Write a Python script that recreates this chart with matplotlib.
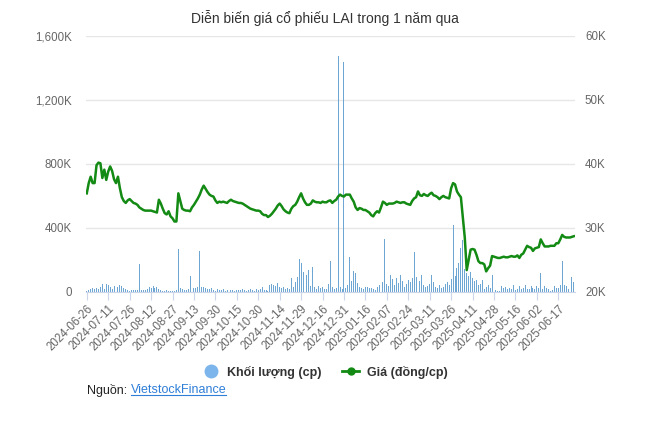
import numpy as np
import matplotlib
matplotlib.use("Agg")
import matplotlib.pyplot as plt
from matplotlib.lines import Line2D
from matplotlib.ticker import FuncFormatter, FixedLocator

plt.rcParams["font.family"] = ["Liberation Sans", "DejaVu Sans"]

TITLE = "Diễn biến giá cổ phiếu LAI trong 1 năm qua"

# tick labels, one every 11 sessions
tick_labels = [
    "2024-06-26", "2024-07-11", "2024-07-26", "2024-08-12", "2024-08-27",
    "2024-09-13", "2024-09-30", "2024-10-15", "2024-10-30", "2024-11-14",
    "2024-11-29", "2024-12-16", "2024-12-31", "2025-01-16", "2025-02-07",
    "2025-02-24", "2025-03-11", "2025-03-26", "2025-04-11", "2025-04-28",
    "2025-05-16", "2025-06-02", "2025-06-17",
]
tick_step = 11

# close price, thousand dong
price_k = [
    35.4, 37.0, 38.0, 37.0, 37.0, 39.8, 40.2, 40.1, 37.8, 39.1,
    37.5, 38.8, 39.6, 38.9, 37.6, 37.0, 38.0, 36.2, 34.8, 34.2,
    33.9, 34.3, 34.5, 34.2, 33.9, 33.8, 33.6, 33.2, 33.0, 32.8,
    32.7, 32.7, 32.7, 32.7, 32.6, 32.5, 32.4, 34.4, 33.8, 33.0,
    32.3, 32.1, 32.6, 31.8, 31.5, 31.0, 31.0, 35.4, 34.2, 33.0,
    32.8, 32.7, 32.7, 32.6, 33.2, 33.6, 34.1, 34.6, 35.2, 36.0,
    36.6, 36.1, 35.6, 35.2, 35.0, 34.9, 34.3, 33.9, 34.1, 34.0,
    34.1, 34.0, 33.9, 34.2, 34.4, 34.2, 34.1, 34.0, 33.9, 33.9,
    33.8, 33.6, 33.4, 33.2, 33.0, 32.9, 32.8, 32.7, 32.7, 32.6,
    32.2, 32.0, 32.0, 31.7, 31.9, 32.2, 32.6, 33.0, 33.5, 33.8,
    33.4, 32.9, 32.6, 32.4, 32.3, 33.0, 33.4, 33.6, 34.1, 34.8,
    35.4, 34.6, 34.0, 33.6, 33.6, 33.8, 34.3, 34.1, 34.0, 34.0,
    33.9, 34.1, 34.0, 34.0, 34.2, 34.3, 33.9, 34.2, 34.4, 34.9,
    35.2, 35.0, 34.9, 35.2, 35.2, 35.2, 34.6, 34.1, 33.2, 32.8,
    33.1, 33.0, 32.8, 32.8, 32.6, 32.4, 32.0, 31.8, 32.3, 32.6,
    32.4, 33.2, 34.1, 33.9, 33.6, 33.8, 33.8, 33.8, 33.9, 34.1,
    34.0, 33.9, 34.0, 34.0, 33.8, 33.7, 33.6, 34.2, 34.6, 34.8,
    35.7, 35.1, 35.0, 35.3, 35.1, 35.0, 35.3, 35.5, 35.1, 35.0,
    34.8, 34.5, 34.8, 35.0, 34.8, 34.7, 34.6, 36.2, 37.0, 36.8,
    35.7, 35.2, 34.8, 31.7, 28.5, 23.4, 25.0, 26.6, 26.7, 26.6,
    25.8, 24.8, 24.5, 24.5, 24.3, 23.2, 23.7, 24.1, 25.6, 25.5,
    25.4, 25.3, 25.3, 25.4, 25.5, 25.4, 25.4, 25.5, 25.6, 25.5,
    25.5, 25.7, 25.3, 25.8, 26.0, 26.6, 27.2, 27.0, 26.9, 26.4,
    26.8, 26.9, 27.0, 28.2, 27.6, 27.1, 27.1, 27.1, 27.2, 27.2,
    27.2, 27.6, 27.6, 28.2, 28.9, 28.6, 28.5, 28.5, 28.5, 28.6,
    28.7,
]

# traded volume, thousand shares
volume_k = [
    8, 12, 15, 22, 18, 25, 20, 30, 48, 20,
    50, 45, 28, 15, 37, 22, 28, 40, 35, 25,
    15, 10, 8, 14, 12, 10, 12, 175, 12, 14,
    10, 20, 28, 22, 35, 25, 30, 15, 10, 8,
    6, 10, 8, 6, 5, 8, 10, 267, 25, 18,
    12, 10, 15, 100, 30, 25, 22, 28, 258, 30,
    28, 25, 18, 15, 22, 12, 8, 15, 12, 10,
    15, 8, 10, 6, 12, 10, 8, 14, 12, 10,
    15, 12, 8, 10, 15, 12, 8, 20, 12, 15,
    30, 12, 10, 8, 45, 48, 40, 35, 54, 30,
    25, 28, 20, 25, 15, 85, 30, 60, 90, 204,
    179, 123, 142, 104, 135, 35, 158, 28, 20, 35,
    25, 30, 20, 15, 50, 194, 30, 20, 25, 1475,
    30, 15, 1437, 25, 40, 215, 65, 131, 120, 55,
    30, 25, 18, 28, 30, 22, 25, 15, 10, 30,
    45, 90, 60, 329, 50, 38, 104, 80, 45, 88,
    55, 106, 70, 30, 50, 75, 60, 85, 252, 90,
    325, 70, 106, 40, 30, 35, 50, 104, 60, 30,
    25, 40, 25, 30, 50, 60, 45, 80, 419, 100,
    148, 179, 273, 325, 140, 120, 100, 125, 85, 65,
    75, 40, 50, 75, 20, 30, 40, 25, 104, 20,
    12, 8, 5, 35, 25, 28, 15, 25, 20, 40,
    12, 15, 35, 20, 25, 40, 15, 20, 35, 25,
    15, 38, 25, 117, 20, 35, 25, 15, 8, 10,
    35, 25, 25, 40, 190, 45, 38, 20, 25, 90,
    60,
]

vol_ticks = [0, 400, 800, 1200, 1600]
price_ticks = [20, 30, 40, 50, 60]

BAR_COLOR = "#6ea6d3"
LEGEND_BLUE = "#7cb5ec"
LINE_GREEN = "#138a13"
GRID = "#e6e6e6"
TEXT = "#666666"

n = len(price_k)
x = np.arange(n)

fig = plt.figure(figsize=(6.5, 4.23), dpi=100)
ax = fig.add_axes([0.132, 0.310, 0.753, 0.605])
ax2 = ax.twinx()

ax.bar(x, volume_k, width=0.5, color=BAR_COLOR, linewidth=0, zorder=2)
ax2.plot(x, price_k, color=LINE_GREEN, linewidth=1.8, zorder=3)

ax.set_xlim(-0.5, n - 0.3)
ax.set_ylim(0, 1600)
ax2.set_ylim(20, 60)

ax.yaxis.set_major_locator(FixedLocator(vol_ticks))
ax.yaxis.set_major_formatter(FuncFormatter(lambda v, p: "0" if v == 0 else f"{int(v):,}K"))
ax2.yaxis.set_major_locator(FixedLocator(price_ticks))
ax2.yaxis.set_major_formatter(FuncFormatter(lambda v, p: f"{int(v)}K"))

ax.grid(axis="y", color=GRID, linewidth=1)
ax.set_axisbelow(True)

tick_pos = np.arange(len(tick_labels)) * tick_step
ax.set_xticks(tick_pos)
ax.set_xticklabels(tick_labels, rotation=45, ha="right", va="top",
                   rotation_mode="anchor", fontsize=8.3, color=TEXT)

for a in (ax, ax2):
    for s in a.spines.values():
        s.set_visible(False)
ax.spines["bottom"].set_visible(True)
ax.spines["bottom"].set_color("#ccd6eb")

ax.tick_params(axis="x", length=6, color="#ccd6eb", pad=2)
ax.tick_params(axis="y", length=0, labelsize=8.3, labelcolor=TEXT, pad=10)
ax2.tick_params(axis="y", length=0, labelsize=8.3, labelcolor=TEXT, pad=7)

fig.text(0.5, 0.958, TITLE, ha="center", va="center", fontsize=10, color="#333333")

handles = [
    Line2D([], [], linestyle="none", marker="o", markersize=9,
           markerfacecolor=LEGEND_BLUE, markeredgecolor=LEGEND_BLUE),
    Line2D([], [], color=LINE_GREEN, linewidth=2, marker="o", markersize=5),
]
leg = fig.legend(handles, ["Khối lượng (cp)", "Giá (đồng/cp)"], loc="center",
                 bbox_to_anchor=(0.5, 0.12), ncol=2, frameon=False,
                 prop={"weight": "bold", "size": 9}, handlelength=1.4,
                 columnspacing=1.6, handletextpad=0.6)
for t in leg.get_texts():
    t.set_color("#333333")

fig.text(0.134, 0.077, "Nguồn: ", ha="left", va="center", fontsize=9, color="#222222")
fig.canvas.draw()
src = fig.texts[-1]
bb = src.get_window_extent().transformed(fig.transFigure.inverted())
link = fig.text(bb.x1, 0.077, "VietstockFinance", ha="left", va="center",
                fontsize=9, color="#2f7ed8")
fig.canvas.draw()
lb = link.get_window_extent().transformed(fig.transFigure.inverted())
fig.add_artist(Line2D([lb.x0, lb.x1], [lb.y0 + 0.004, lb.y0 + 0.004],
                      color="#2f7ed8", linewidth=0.8, transform=fig.transFigure))

fig.savefig("out.png", dpi=100, facecolor="white")
